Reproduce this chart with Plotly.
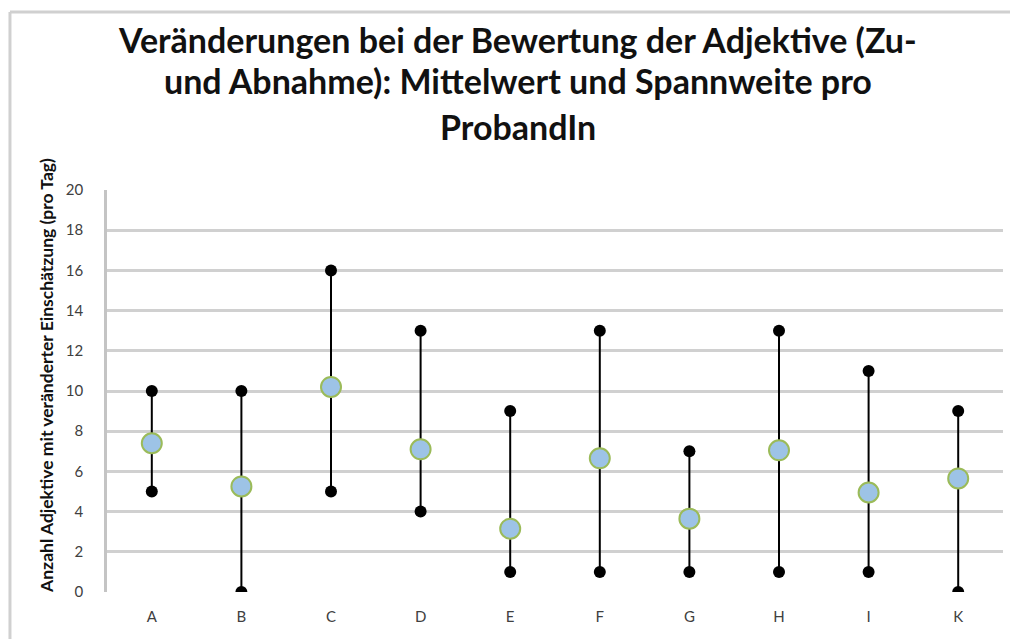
import plotly.graph_objects as go

categories = ["A", "B", "C", "D", "E", "F", "G", "H", "I", "K"]
min_values = [5, 0, 5, 4, 1, 1, 1, 1, 1, 0]
max_values = [10, 10, 16, 13, 9, 13, 7, 13, 11, 9]
mean_values = [7.4, 5.25, 10.2, 7.1, 3.15, 6.65, 3.65, 7.05, 4.95, 5.65]
y_ticks = [0, 2, 4, 6, 8, 10, 12, 14, 16, 18, 20]

title_lines = ["Veränderungen bei der Bewertung der Adjektive (Zu-",
               "und Abnahme): Mittelwert und Spannweite pro",
               "ProbandIn"]
y_title = "Anzahl Adjektive mit veränderter Einschätzung (pro Tag)"

FONT = "Lato"

# build range segments
seg_x, seg_y = [], []
for c, lo, hi in zip(categories, min_values, max_values):
    seg_x += [c, c, None]
    seg_y += [lo, hi, None]

fig = go.Figure()
fig.add_trace(go.Scatter(
    x=seg_x, y=seg_y, mode="lines+markers",
    line=dict(color="#000000", width=2),
    marker=dict(color="#000000", size=12),
    cliponaxis=True, showlegend=False, hoverinfo="skip"))
fig.add_trace(go.Scatter(
    x=categories, y=mean_values, mode="markers",
    marker=dict(color="#9dc3e6", size=20, line=dict(color="#9bbb59", width=2)),
    cliponaxis=False, showlegend=False))

# page body has an 8px margin -> figure shifted by 8px
fig.update_layout(
    width=1010, height=631,
    paper_bgcolor="white", plot_bgcolor="white",
    margin=dict(l=99, r=15, t=182, b=47),
    font=dict(family=FONT, color="#404040"),
)
fig.update_xaxes(type="category", categoryorder="array", categoryarray=categories,
                 range=[-0.5, len(categories) - 0.5],
                 showgrid=False, showline=False, ticks="", zeroline=False,
                 tickfont=dict(family=FONT, size=15, color="#404040"), ticklabelstandoff=14)
fig.update_yaxes(range=[0, 20], tickvals=y_ticks, showgrid=True,
                 gridcolor="#d0d0d0", gridwidth=2.5, zeroline=False,
                 showline=True, linecolor="#c4c4c4", linewidth=2.5,
                 ticks="", tickfont=dict(family=FONT, size=15, color="#404040"),
                 ticklabelstandoff=18)

# title lines
title_y = [1.3756, 1.2712, 1.1592]
for txt, yy in zip(title_lines, title_y):
    fig.add_annotation(text=txt, xref="paper", yref="paper", x=0.4587, y=yy,
                       xanchor="center", yanchor="middle", showarrow=False,
                       font=dict(family=FONT, size=34, color="#111111", weight="bold"))

# y-axis title
fig.add_annotation(text=y_title, xref="paper", yref="paper", x=-0.067, y=0.54,
                   xanchor="center", yanchor="middle", textangle=-90, showarrow=False,
                   font=dict(family=FONT, size=17.5, color="#111111", weight="bold"))

# outer chart frame (left and top edges visible)
fig.add_shape(type="line", xref="paper", yref="paper",
              x0=-0.1083, x1=-0.1083, y0=-0.2, y1=1.4428,
              line=dict(color="#d0d0d0", width=3))
fig.add_shape(type="line", xref="paper", yref="paper",
              x0=-0.1083, x1=1.1, y0=1.4428, y1=1.4428,
              line=dict(color="#d0d0d0", width=3))

fig.write_html("out.html")
